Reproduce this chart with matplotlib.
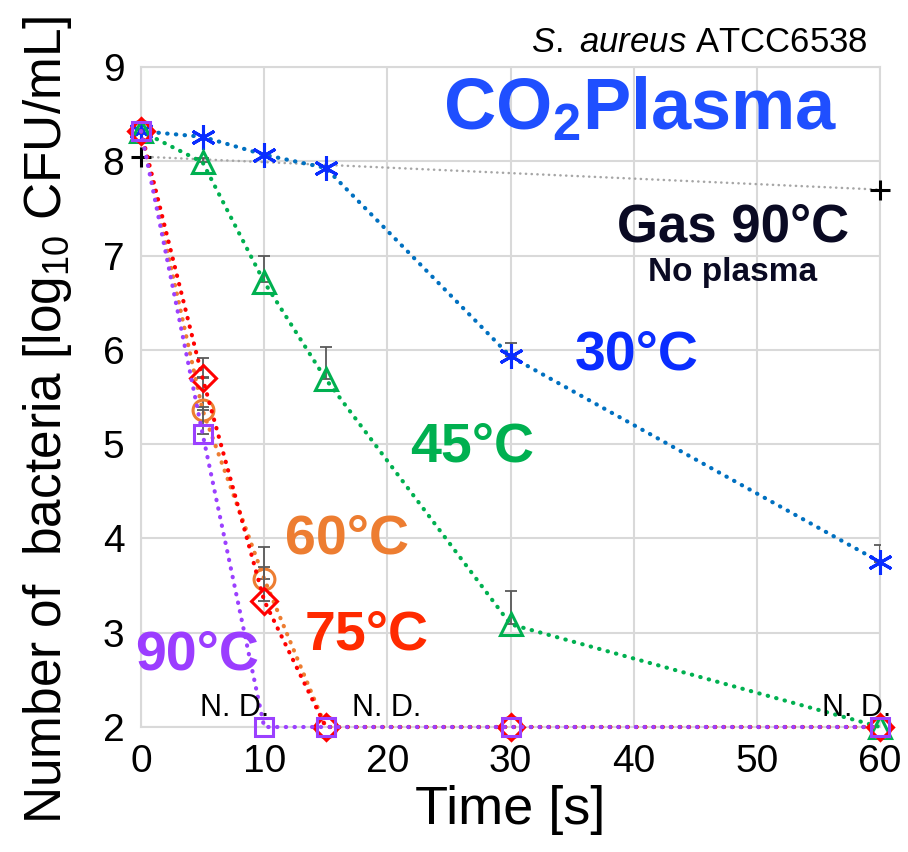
import numpy as np
import matplotlib
matplotlib.use("Agg")
import matplotlib.pyplot as plt

plt.rcParams['font.family'] = ['Liberation Sans', 'DejaVu Sans']
plt.rcParams['mathtext.fontset'] = 'custom'
plt.rcParams['mathtext.rm'] = 'Liberation Sans'
plt.rcParams['mathtext.it'] = 'Liberation Sans:italic'
plt.rcParams['mathtext.bf'] = 'Liberation Sans:bold'

# data (time in s, log10 CFU/mL)
time = [0, 5, 10, 15, 30, 60]
temp_30 = [8.32, 8.26, 8.07, 7.93, 5.93, 3.75]
temp_45 = [8.32, 7.99, 6.72, 5.69, 3.09, 2.0]
temp_60 = [8.32, 5.36, 3.57, 2.0, 2.0, 2.0]
temp_75 = [8.32, 5.70, 3.34, 2.0, 2.0, 2.0]
temp_90 = [8.32, 5.11, 2.0, 2.0, 2.0, 2.0]
err_30 = [0, 0, 0, 0, 0.14, 0.18]
err_45 = [0, 0.05, 0.28, 0.34, 0.35, 0]
err_60 = [0, 0.35, 0.34, 0, 0, 0]
err_75 = [0, 0.21, 0.36, 0, 0, 0]
err_90 = [0, 0.28, 0, 0, 0, 0]
gas_time = [0, 60]
gas_90 = [8.05, 7.70]

x_ticks = [0, 10, 20, 30, 40, 50, 60]
y_ticks = [2, 3, 4, 5, 6, 7, 8, 9]

fig = plt.figure(figsize=(9.08, 8.52), dpi=100)
ax = fig.add_axes([0.1553, 0.1467, 0.8139, 0.7746])

dotted = (0, (0.1, 2))

# gas only, no plasma
ax.plot(gas_time, gas_90, color='#a6a6a6', lw=1.8, linestyle=(0, (0.1, 2.2)),
        dash_capstyle='round', zorder=2)
ax.plot(gas_time, gas_90, linestyle='none', marker='+', color='black',
        markersize=15, mew=2.2, zorder=3, clip_on=False)

series = [
    (temp_30, err_30, '#0070c0', '#0a2dff', (6, 2, 0), 18),
    (temp_45, err_45, '#00b050', '#00b050', '^', 16),
    (temp_60, err_60, '#ed7d31', '#ed7d31', 'o', 15),
    (temp_75, err_75, '#ff0000', '#ff0000', 'D', 13),
    (temp_90, err_90, '#9b40ff', '#9b40ff', 's', 13),
]

for i, (vals, errs, lc, mc, mk, ms) in enumerate(series):
    t = np.array(time)
    v = np.array(vals)
    e = np.array(errs)
    has = e > 0
    ax.errorbar(t[has], v[has], yerr=[np.zeros(has.sum()), e[has]], fmt='none',
                ecolor='#595959', elinewidth=1.3, capsize=4, capthick=1.3,
                zorder=4 + i)
    ax.plot(t, v, color=lc, lw=3, linestyle=dotted, dash_capstyle='round',
            zorder=4 + i, clip_on=False)
    ax.plot(t, v, linestyle='none', marker=mk, markersize=ms,
            markerfacecolor='none', markeredgecolor=mc, mew=2.2, zorder=5 + i,
            clip_on=False)

ax.set_xlim(0, 60)
ax.set_ylim(2, 9)
ax.set_xticks(x_ticks)
ax.set_yticks(y_ticks)
ax.tick_params(length=0, labelsize=28, pad=12)
ax.grid(True, color='#d9d9d9', lw=1.5)
ax.set_axisbelow(True)
for sp in ax.spines.values():
    sp.set_color('#d9d9d9')
    sp.set_linewidth(1.5)

ax.set_xlabel('Time [s]', fontsize=39, labelpad=4)
fig.text(48 / 908, 1 - 420 / 852, r'Number of  bacteria [log$_\mathregular{10}$ CFU/mL]',
         rotation=90, ha='center', va='center', fontsize=37)

# annotations
fig.text(868 / 908, 1 - 42 / 852, r'$\mathit{S.\ aureus}$ ATCC6538',
         ha='right', va='center', fontsize=25)
fig.text(640 / 908, 1 - 110 / 852, r'CO$_\mathregular{2}$Plasma', ha='center',
         va='center', fontsize=52, fontweight='bold', color='#1f4fff')
fig.text(733 / 908, 1 - 227 / 852, 'Gas 90°C', ha='center', va='center',
         fontsize=38, fontweight='bold', color='#0a0a23')
fig.text(733 / 908, 1 - 272 / 852, 'No plasma', ha='center', va='center',
         fontsize=24, fontweight='bold', color='#0a0a23')
fig.text(637 / 908, 1 - 355 / 852, '30°C', ha='center', va='center',
         fontsize=40, fontweight='bold', color='#0a2dff')
fig.text(472 / 908, 1 - 447 / 852, '45°C', ha='center', va='center',
         fontsize=40, fontweight='bold', color='#00b050')
fig.text(347 / 908, 1 - 540 / 852, '60°C', ha='center', va='center',
         fontsize=40, fontweight='bold', color='#ed7d31')
fig.text(367 / 908, 1 - 636 / 852, '75°C', ha='center', va='center',
         fontsize=40, fontweight='bold', color='#ff2a00')
fig.text(197 / 908, 1 - 655 / 852, '90°C', ha='center', va='center',
         fontsize=40, fontweight='bold', color='#9b3dff')
for px in [235, 387, 857]:
    fig.text(px / 908, 1 - 708 / 852, 'N. D.', ha='center', va='center',
             fontsize=22, color='black')

fig.savefig('out.png', dpi=100)
